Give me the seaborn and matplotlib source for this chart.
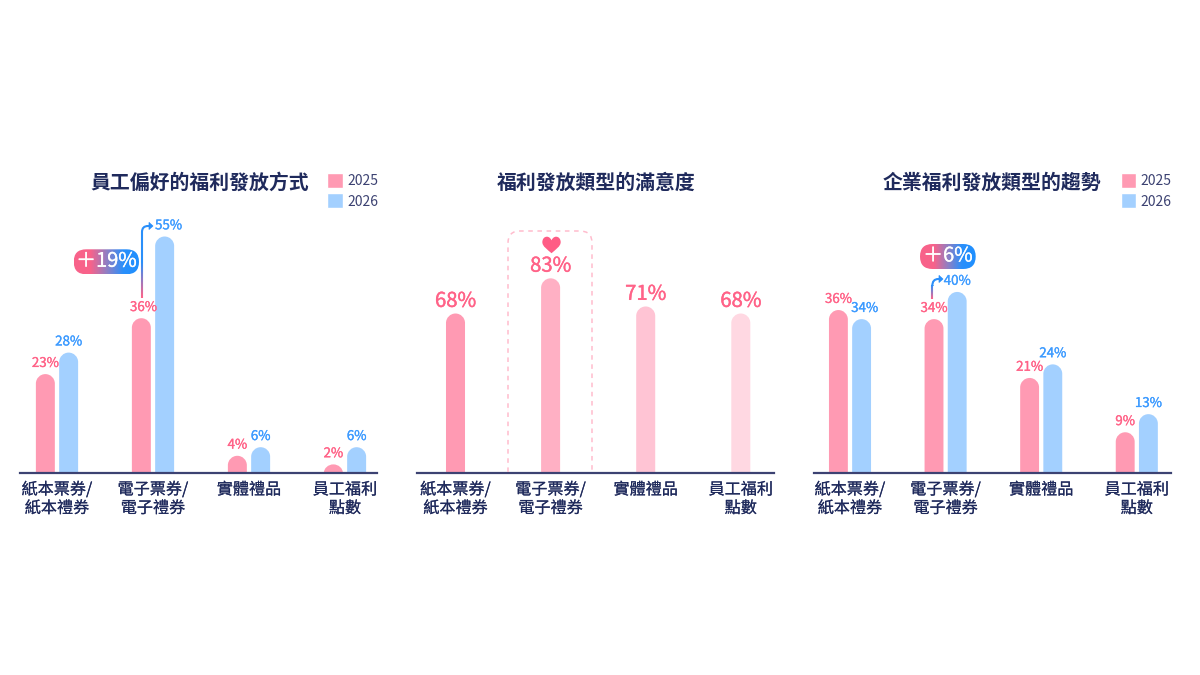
import numpy as np
import pandas as pd
import seaborn as sns
import matplotlib
matplotlib.use('Agg')
import matplotlib.pyplot as plt
import matplotlib.patheffects as pe
from matplotlib.path import Path
from matplotlib.patches import PathPatch, FancyBboxPatch
from matplotlib.collections import LineCollection
from matplotlib.colors import LinearSegmentedColormap
from matplotlib.transforms import IdentityTransform

categories = ['紙本票券/\n紙本禮券', '電子票券/\n電子禮券', '實體禮品', '員工福利\n點數']
years = ['2025', '2026']

prefer_2025 = [23, 36, 4, 2]
prefer_2026 = [28, 55, 6, 6]
satisfaction = [68, 83, 71, 68]
trend_2025 = [36, 34, 21, 9]
trend_2026 = [34, 40, 24, 13]

titles = ['員工偏好的福利發放方式', '福利發放類型的滿意度', '企業福利發放類型的趨勢']

PINK = '#ff9ab3'
BLUE = '#a3d0ff'
PINK_TEXT = '#ff6388'
BLUE_TEXT = '#3d9bff'
NAVY = '#1f2a5c'
AXIS = '#3c4272'
satisfaction_colors = ['#ff9ab3', '#ffb0c4', '#ffc4d4', '#ffd8e2']

sns.set_theme(style='white')
plt.rcParams['font.family'] = ['Noto Sans CJK TC', 'DejaVu Sans']

W, H = 1200, 675
fig = plt.figure(figsize=(12, 6.75), dpi=100, facecolor='white')


def medium(color, width=0.2):
    # only regular and bold are installed, a thin stroke gives the medium weight
    return [pe.withStroke(linewidth=width, foreground=color)]


def make_axes(left, right, first, spacing, ymax):
    # axes go from pixel y=215 to the baseline at y=473
    ax = fig.add_axes([left / W, 1 - 473 / H, (right - left) / W, 258 / H])
    ax.patch.set_alpha(0)
    return ax, ((left - first) / spacing, (right - first) / spacing), (0, ymax)


def finish_axes(ax, xlim, ylim):
    ax.set_xlim(*xlim)
    ax.set_ylim(*ylim)
    ax.set_xlabel('')
    ax.set_ylabel('')
    ax.set_yticks([])
    sns.despine(ax=ax, left=True)
    ax.spines['bottom'].set_color(AXIS)
    ax.spines['bottom'].set_linewidth(1.6)
    ax.tick_params(axis='x', length=0, pad=6, labelsize=11.6, labelcolor=NAVY)
    for t in ax.get_xticklabels():
        t.set_linespacing(1.12)
        t.set_path_effects(medium(NAVY, 0.1))


def round_bar_tops(ax):
    # swap each seaborn bar for a patch of the same size with a domed top
    k = 0.5523
    for bar in list(ax.patches):
        x0, y0 = ax.transData.transform((bar.get_x(), 0))
        x1, y1 = ax.transData.transform((bar.get_x() + bar.get_width(), bar.get_height()))
        rx = (x1 - x0) / 2
        ry = min(rx, y1 - y0)
        verts = [(x0, y0), (x0, y1 - ry),
                 (x0, y1 - ry + k * ry), (x0 + rx - k * rx, y1), (x0 + rx, y1),
                 (x0 + rx + k * rx, y1), (x1, y1 - ry + k * ry), (x1, y1 - ry),
                 (x1, y0), (x0, y0)]
        codes = [Path.MOVETO, Path.LINETO,
                 Path.CURVE4, Path.CURVE4, Path.CURVE4,
                 Path.CURVE4, Path.CURVE4, Path.CURVE4,
                 Path.LINETO, Path.CLOSEPOLY]
        dome = PathPatch(Path(verts, codes), fc=bar.get_facecolor(), ec='none',
                         transform=IdentityTransform(), zorder=bar.get_zorder())
        ax.add_artist(dome)
        bar.set_visible(False)


def paired_panel(ax, xlim, ylim, v25, v26, legend_left, shifts):
    df = pd.DataFrame({'cat': categories * 2,
                       'year': [years[0]] * 4 + [years[1]] * 4,
                       'value': v25 + v26})
    sns.barplot(data=df, x='cat', y='value', hue='year', hue_order=years,
                palette=[PINK, BLUE], saturation=1, width=0.485, gap=0.185, ax=ax)
    sns.move_legend(ax, 'upper left', bbox_to_anchor=(legend_left / W, 1 - 172.5 / H),
                    bbox_transform=fig.transFigure, title=None, frameon=False,
                    handlelength=1.1, handleheight=1.285, handletextpad=0.36,
                    labelspacing=0.42, fontsize=10, labelcolor=AXIS,
                    borderpad=0, borderaxespad=0)
    finish_axes(ax, xlim, ylim)
    for container, color, year in zip(ax.containers, [PINK_TEXT, BLUE_TEXT], years):
        labels = ax.bar_label(container, fmt='%g%%', padding=3, fontsize=9.6,
                              color=color, zorder=6)
        for i, lab in enumerate(labels):
            lab.set_path_effects(medium(color))
            dx = shifts.get((year, i), 0)
            if dx:
                lab.xyann = (lab.xyann[0] + dx, lab.xyann[1])
    round_bar_tops(ax)


# left panel
ax1, xlim1, ylim1 = make_axes(20, 377, 57, 96, 60)
paired_panel(ax1, xlim1, ylim1, prefer_2025, prefer_2026, 327.5,
             {('2025', 1): 1.5, ('2026', 1): 2.8})

# middle panel
ax2, xlim2, ylim2 = make_axes(417, 774, 455.5, 95.1, 110)
sns.barplot(x=categories, y=satisfaction, hue=categories, palette=satisfaction_colors,
            saturation=1, legend=False, width=0.2, ax=ax2)
finish_axes(ax2, xlim2, ylim2)
for container in ax2.containers:
    for lab in ax2.bar_label(container, fmt='%g%%', padding=1.2, fontsize=14.6,
                             color=PINK_TEXT, zorder=6):
        lab.set_path_effects(medium(PINK_TEXT, 0.3))
round_bar_tops(ax2)

# right panel
ax3, xlim3, ylim3 = make_axes(814, 1171, 850, 95.6, 57)
paired_panel(ax3, xlim3, ylim3, trend_2025, trend_2026, 1120.5, {('2026', 0): 2.2})

# overlay in pixel coordinates for titles, pills, arrows, box and heart
over = fig.add_axes([0, 0, 1, 1], zorder=10)
over.patch.set_alpha(0)
over.axis('off')

over.text(199.5, 182.5, titles[0], ha='center', va='center', fontsize=14.3,
          fontweight='bold', color=NAVY)
over.text(596, 182.5, titles[1], ha='center', va='center', fontsize=14.3,
          fontweight='bold', color=NAVY)
over.text(992, 182.5, titles[2], ha='center', va='center', fontsize=14.3,
          fontweight='bold', color=NAVY)

pill_cmap = LinearSegmentedColormap.from_list('pill', ['#f8628a', '#f8628a', '#8f7fc4', '#2a90fb', '#1e8fff'])
line_cmap = LinearSegmentedColormap.from_list('up', ['#ff6388', '#2a8ffa'])


def pill(x0, x1, y0, y1, label):
    grad = np.linspace(0, 1, 256).reshape(1, -1)
    im = over.imshow(grad, cmap=pill_cmap, extent=(x0, x1, y1, y0), aspect='auto', zorder=3)
    box = FancyBboxPatch((x0 + 12.5, y0 + 12.5), x1 - x0 - 25, y1 - y0 - 25,
                         boxstyle='round,pad=12.5,rounding_size=12.5',
                         fc='none', ec='none', transform=over.transData)
    over.add_patch(box)
    im.set_clip_path(box)
    over.text((x0 + x1) / 2, (y0 + y1) / 2 - 0.5, label, ha='center', va='center',
              fontsize=14.4, color='white', zorder=4, path_effects=medium('white', 0.2))


def up_arrow(x, y_bottom, y_bend, y_top, x_head, gradient_end):
    ys = np.linspace(y_bottom, gradient_end, 30)
    segs = [[(x, a), (x, b)] for a, b in zip(ys[:-1], ys[1:])]
    lc = LineCollection(segs, colors=line_cmap(np.linspace(0, 1, 29)), linewidths=1.5,
                        capstyle='butt', zorder=3)
    over.add_collection(lc)
    verts = [(x, gradient_end), (x, y_bend), (x, y_top), (x + 6, y_top), (x_head - 3, y_top)]
    codes = [Path.MOVETO, Path.LINETO, Path.CURVE3, Path.CURVE3, Path.LINETO]
    over.add_patch(PathPatch(Path(verts, codes), fc='none', ec='#2a8ffa', lw=1.5, zorder=3))
    head = [(x_head - 4, y_top - 3.5), (x_head, y_top), (x_head - 4, y_top + 3.5), (x_head - 4, y_top - 3.5)]
    over.add_patch(PathPatch(Path(head), fc='#2a8ffa', ec='#2a8ffa', lw=0.5, zorder=3))


pill(73.7, 139, 249.3, 274.3, '＋19%')
up_arrow(142, 298, 232, 226, 153, 262)
pill(920, 975.7, 244, 269, '＋6%')
up_arrow(932.3, 299, 286, 279, 943, 285)

# dashed highlight around the middle bar, open at the baseline
over.add_patch(PathPatch(
    Path([(508, 472), (508, 243), (508, 231), (520, 231), (580, 231), (592, 231), (592, 243), (592, 472)],
         [Path.MOVETO, Path.LINETO, Path.CURVE3, Path.CURVE3, Path.LINETO, Path.CURVE3, Path.CURVE3, Path.LINETO]),
    fc='none', ec='#ffbccd', lw=1.1, ls=(0, (3, 3)), zorder=2))

# heart marker, marker coordinates point up
heart = Path([(0, -0.95),
              (-0.45, -0.55), (-1, -0.2), (-1, 0.25),
              (-1, 0.6), (-0.8, 0.85), (-0.5, 0.85),
              (-0.25, 0.85), (-0.08, 0.65), (0, 0.45),
              (0.08, 0.65), (0.25, 0.85), (0.5, 0.85),
              (0.8, 0.85), (1, 0.6), (1, 0.25),
              (1, -0.2), (0.45, -0.55), (0, -0.95)],
             [Path.MOVETO] + [Path.CURVE4] * 18)
over.plot([550.5], [243.5], marker=heart, ms=13.2, color='#ff5c85', mew=0, zorder=4)

over.set_xlim(0, W)
over.set_ylim(H, 0)

fig.savefig('out.png', dpi=100, facecolor='white')
